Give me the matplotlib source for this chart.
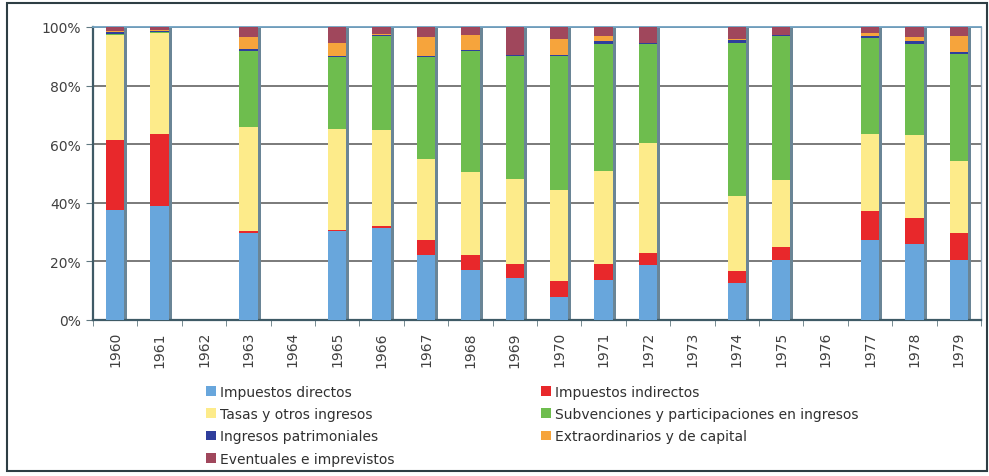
import numpy as np
import matplotlib
matplotlib.use("Agg")
import matplotlib.pyplot as plt
from matplotlib.patches import Rectangle, Patch
from matplotlib.ticker import FuncFormatter, FixedLocator

years = ["1960", "1961", "1962", "1963", "1964", "1965", "1966", "1967", "1968", "1969",
         "1970", "1971", "1972", "1973", "1974", "1975", "1976", "1977", "1978", "1979"]

impuestos_directos = [37.6, 38.9, 0, 29.8, 0, 30.3, 31.5, 22.1, 17.2, 14.5,
                      8.0, 13.7, 18.9, 0, 12.5, 20.6, 0, 27.3, 26.0, 20.6]
impuestos_indirectos = [23.7, 24.7, 0, 0.5, 0, 0.5, 0.5, 5.3, 5.1, 4.6,
                        5.4, 5.4, 4.1, 0, 4.1, 4.3, 0, 9.9, 8.7, 9.2]
tasas = [36.1, 34.3, 0, 35.6, 0, 34.3, 33.0, 27.6, 28.1, 29.0,
         31.0, 31.6, 37.4, 0, 25.8, 23.0, 0, 26.4, 28.3, 24.3]
subvenciones = [0.3, 0.3, 0, 26.0, 0, 24.5, 32.0, 34.9, 41.5, 42.0,
                45.7, 43.5, 33.9, 0, 52.3, 49.1, 0, 32.6, 31.3, 36.7]
patrimoniales = [0.5, 0.3, 0, 0.7, 0, 0.5, 0.2, 0.3, 0.2, 0.2,
                 0.2, 0.9, 0.2, 0, 0.9, 0.2, 0, 0.8, 0.9, 0.8]
extraordinarios = [0.3, 0.5, 0, 4.1, 0, 4.3, 0.3, 6.5, 5.2, 0.3,
                   5.5, 1.7, 0.2, 0, 0.3, 0.2, 0, 0.9, 1.4, 5.4]
eventuales = [1.5, 1.0, 0, 3.3, 0, 5.6, 2.5, 3.3, 2.7, 9.4,
              4.2, 3.2, 5.3, 0, 4.1, 2.6, 0, 2.1, 3.4, 3.0]

series = [
    ("Impuestos directos", impuestos_directos, "#68A6DC"),
    ("Impuestos indirectos", impuestos_indirectos, "#E8282B"),
    ("Tasas y otros ingresos", tasas, "#FDEB8A"),
    ("Subvenciones y participaciones en ingresos", subvenciones, "#6EBD4E"),
    ("Ingresos patrimoniales", patrimoniales, "#2F3E9C"),
    ("Extraordinarios y de capital", extraordinarios, "#F6A43C"),
    ("Eventuales e imprevistos", eventuales, "#A0475C"),
]

W, H = 989, 477
fig = plt.figure(figsize=(W / 100, H / 100), dpi=100)
fig.patch.set_facecolor("white")

# outer frame
fig.patches.append(Rectangle((7 / W, 1 - 472 / H), (987 - 7) / W, (472 - 4) / H,
                             transform=fig.transFigure, fill=False,
                             edgecolor="#2E3E44", linewidth=1.5, zorder=0))

ax = fig.add_axes([93 / W, 1 - 321 / H, (981 - 93) / W, (321 - 28) / H])
x = np.arange(len(years))
bw = 0.41

totals = np.sum([np.array(s[1]) for s in series], axis=0)
# bar shadow on the right side
ax.bar(x + 0.07, totals, width=bw, color="#6A8596", zorder=2, linewidth=0)

bottom = np.zeros(len(years))
for name, vals, col in series:
    v = np.array(vals, dtype=float)
    ax.bar(x, v, width=bw, bottom=bottom, color=col, zorder=3, linewidth=0)
    bottom += v

ax.set_xlim(-0.5, len(years) - 0.5)
ax.set_ylim(0, 100)
ax.set_yticks([0, 20, 40, 60, 80, 100])
ax.yaxis.set_major_formatter(FuncFormatter(lambda v, p: f"{int(v)}%"))
ax.grid(axis="y", color="#707070", linewidth=1.3, zorder=1)
ax.set_axisbelow(True)

ax.set_xticks(x)
ax.set_xticklabels(years, rotation=90, fontsize=10, color="#404040")
ax.tick_params(axis="x", which="major", length=0, pad=8)
ax.xaxis.set_minor_locator(FixedLocator(np.arange(-0.5, len(years), 1.0)))
ax.tick_params(axis="x", which="minor", length=4, color="#607880", direction="out")
ax.tick_params(axis="y", length=5, color="#607880", labelsize=10, labelcolor="#404040", pad=4)

for s in ["left", "bottom"]:
    ax.spines[s].set_color("#3F5A66")
    ax.spines[s].set_linewidth(1.6)
ax.spines["top"].set_color("#6FA0C0")
ax.spines["top"].set_linewidth(1.3)
ax.spines["right"].set_color("#8FA7B8")
ax.spines["right"].set_linewidth(1.0)

handles = [Patch(facecolor=c, edgecolor="none") for _, _, c in series]
labels = [n for n, _, _ in series]
col1 = [0, 2, 4, 6]
col2 = [1, 3, 5]
common = dict(frameon=False, fontsize=10, handlelength=0.72, handleheight=0.72,
              handletextpad=0.3, labelspacing=0.59, borderpad=0, borderaxespad=0,
              loc="upper left")
leg1 = fig.legend([handles[i] for i in col1], [labels[i] for i in col1],
                  bbox_to_anchor=(206 / W, 1 - 386 / H), **common)
leg2 = fig.legend([handles[i] for i in col2], [labels[i] for i in col2],
                  bbox_to_anchor=(541 / W, 1 - 386 / H), **common)
for lg in (leg1, leg2):
    for t in lg.get_texts():
        t.set_color("#303030")

fig.savefig("out.png", dpi=100)
